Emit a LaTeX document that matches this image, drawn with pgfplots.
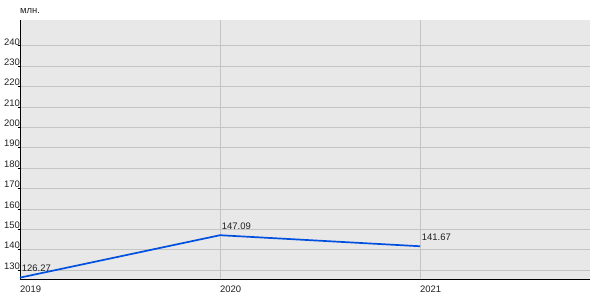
\documentclass[border=0pt]{standalone}
\usepackage{pgfplots}
\pgfplotsset{compat=1.18}
\usepackage{fontspec}
\setmainfont{Liberation Sans}
\definecolor{bgc}{HTML}{E8E8E8}
\definecolor{gridc}{HTML}{C4C4C4}
\definecolor{linec}{HTML}{0050E0}
\definecolor{txtc}{HTML}{202020}
\begin{document}
\begin{tikzpicture}[x=1bp,y=1bp]
\useasboundingbox (-20bp,-21bp) rectangle (580bp,279bp);
\begin{axis}[
  at={(0,0)}, anchor=origin,
  scale only axis, width=570bp, height=259bp,
  xmin=2019, xmax=2021.85, ymin=125.6, ymax=252.7,
  axis background/.style={fill=bgc},
  axis x line*=bottom, axis y line*=left,
  axis line style={black, line width=1bp, -},
  xtick={2019,2020,2021}, xticklabels={2019,2020,2021},
  ytick={130,140,...,240},
  grid=major, major grid style={gridc, line width=0.8bp},
  tick align=outside,
  major tick length=2.5bp,
  x tick style={draw=none},
  y tick style={black, line width=0.8bp},
  /pgf/number format/assume math mode=true,
  /pgf/number format/1000 sep={},
  every tick label/.append style={font=\fontsize{9.5}{11}\selectfont, text=txtc},
  xticklabel style={anchor=north west, inner sep=0pt, yshift=-4bp, xshift=0bp},
  yticklabel style={anchor=south east, inner sep=0pt, xshift=2.5bp, yshift=0.5bp},
  clip=false,
]
\addplot[linec, line width=1.7bp,
  nodes near coords, point meta=explicit symbolic,
  every node near coord/.style={anchor=south west, inner sep=0pt, xshift=1bp, yshift=5bp, font=\fontsize{9.5}{11}\selectfont, text=txtc}]
  table[meta=label] {
x y label
2019 126.27 126.27
2020 147.09 147.09
2021 141.67 141.67
};
\end{axis}
\node[anchor=base west, inner sep=0pt, font=\fontsize{9.5}{11}\selectfont, text=txtc] at (0bp,265bp) {млн.};
\end{tikzpicture}
\end{document}
